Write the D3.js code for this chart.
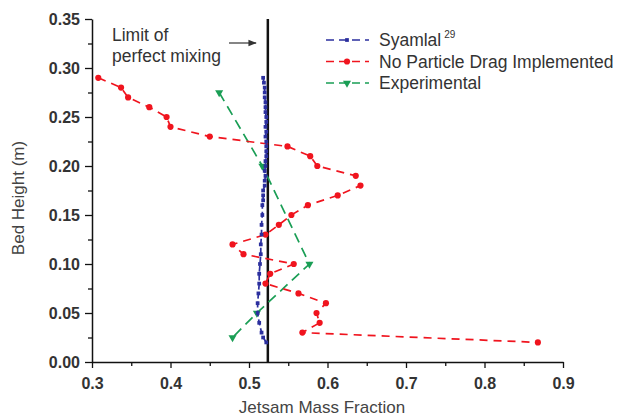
<!DOCTYPE html>
<html>
<head>
<meta charset="utf-8">
<script src="https://cdn.jsdelivr.net/npm/d3@7"></script>
<style>
  html, body { margin: 0; padding: 0; background: #fff; }
  svg { display: block; }
  text { font-family: "Liberation Sans", Arial, sans-serif; }
</style>
</head>
<body>
<svg id="chart" width="619" height="416"></svg>
<script>
// ---- Data ----
const seriesNames = ["Syamlal", "No Particle Drag Implemented", "Experimental"];

const syamlalHeight = [0.29, 0.285, 0.28, 0.275, 0.27, 0.265, 0.26, 0.255, 0.25, 0.245, 0.24, 0.235, 0.23, 0.225, 0.22, 0.215, 0.21, 0.205, 0.20, 0.195, 0.19, 0.185, 0.18, 0.175, 0.17, 0.165, 0.16, 0.15, 0.14, 0.13, 0.12, 0.11, 0.10, 0.09, 0.08, 0.07, 0.06, 0.05, 0.04, 0.03, 0.025, 0.02];
const syamlalFraction = [0.518, 0.519, 0.520, 0.520, 0.520, 0.521, 0.521, 0.521, 0.522, 0.522, 0.521, 0.522, 0.521, 0.522, 0.522, 0.522, 0.522, 0.521, 0.521, 0.520, 0.521, 0.520, 0.520, 0.518, 0.518, 0.518, 0.517, 0.517, 0.516, 0.516, 0.515, 0.515, 0.514, 0.513, 0.513, 0.512, 0.511, 0.511, 0.513, 0.516, 0.518, 0.522];

const dragHeight = [0.29, 0.28, 0.27, 0.26, 0.25, 0.24, 0.23, 0.22, 0.21, 0.20, 0.19, 0.18, 0.17, 0.16, 0.15, 0.14, 0.13, 0.12, 0.11, 0.10, 0.09, 0.08, 0.07, 0.06, 0.05, 0.04, 0.03, 0.02];
const dragFraction = [0.308, 0.337, 0.346, 0.373, 0.395, 0.400, 0.450, 0.549, 0.578, 0.587, 0.636, 0.642, 0.613, 0.575, 0.554, 0.538, 0.521, 0.479, 0.493, 0.557, 0.527, 0.521, 0.563, 0.598, 0.586, 0.590, 0.568, 0.868];

const expHeight = [0.275, 0.20, 0.10, 0.05, 0.025];
const expFraction = [0.462, 0.517, 0.577, 0.510, 0.479];

const perfectMixing = 0.524;

const xTicks = [0.3, 0.4, 0.5, 0.6, 0.7, 0.8, 0.9];
const xMinorTicks = [0.35, 0.45, 0.55, 0.65, 0.75, 0.85];
const yTicks = [0.00, 0.05, 0.10, 0.15, 0.20, 0.25, 0.30, 0.35];
const yMinorTicks = [0.025, 0.075, 0.125, 0.175, 0.225, 0.275, 0.325];

// ---- Chart ----
const svg = d3.select("#chart");
const x = d3.scaleLinear().domain([0.3, 0.9]).range([92, 563]);
const y = d3.scaleLinear().domain([0, 0.35]).range([362, 19]);

const colors = { blue: "#2b2f9e", red: "#f0141e", green: "#1a9e55" };

// minor ticks
svg.append("g").attr("transform", "translate(0,362)")
  .call(d3.axisBottom(x).tickValues(xMinorTicks).tickSize(4).tickFormat(""))
  .call(g => g.select(".domain").remove())
  .call(g => g.selectAll("line").attr("stroke", "#111").attr("stroke-width", 1.3));
svg.append("g").attr("transform", "translate(92,0)")
  .call(d3.axisLeft(y).tickValues(yMinorTicks).tickSize(4).tickFormat(""))
  .call(g => g.select(".domain").remove())
  .call(g => g.selectAll("line").attr("stroke", "#111").attr("stroke-width", 1.3));

// major axes
const xAxis = svg.append("g").attr("transform", "translate(0,362)")
  .call(d3.axisBottom(x).tickValues(xTicks).tickSize(6).tickSizeOuter(0).tickPadding(10).tickFormat(d3.format(".1f")));
const yAxis = svg.append("g").attr("transform", "translate(92,0)")
  .call(d3.axisLeft(y).tickValues(yTicks).tickSize(7).tickSizeOuter(0).tickPadding(5).tickFormat(d3.format(".2f")));
[xAxis, yAxis].forEach(g => {
  g.select(".domain").attr("stroke", "#111").attr("stroke-width", 1.5);
  g.selectAll(".tick line").attr("stroke", "#111").attr("stroke-width", 1.3);
  g.selectAll(".tick text").attr("fill", "#333").style("font-size", "16px").style("font-weight", "bold")
    .style("font-family", "'Liberation Sans', Arial, sans-serif");
});

// axis titles
svg.append("text").attr("x", 322).attr("y", 413).attr("text-anchor", "middle")
  .attr("fill", "#444").style("font-size", "17px").text("Jetsam Mass Fraction");
svg.append("text").attr("transform", "translate(24,198) rotate(-90)").attr("text-anchor", "middle")
  .attr("fill", "#444").style("font-size", "17px").text("Bed Height (m)");

// perfect mixing line
svg.append("line").attr("x1", x(perfectMixing)).attr("x2", x(perfectMixing))
  .attr("y1", y(0.35)).attr("y2", y(0)).attr("stroke", "#111").attr("stroke-width", 2.5);

// annotation
svg.append("text").attr("x", 112).attr("y", 41).attr("fill", "#333").style("font-size", "17.5px").text("Limit of");
svg.append("text").attr("x", 112).attr("y", 62).attr("fill", "#333").style("font-size", "17.5px").text("perfect mixing");
svg.append("defs").append("marker").attr("id", "arrow").attr("viewBox", "0 0 10 10")
  .attr("refX", 9).attr("refY", 5).attr("markerWidth", 7).attr("markerHeight", 7).attr("orient", "auto")
  .append("path").attr("d", "M0,1 L10,5 L0,9 Z").attr("fill", "#333");
svg.append("line").attr("x1", 229).attr("x2", 256).attr("y1", 43).attr("y2", 43)
  .attr("stroke", "#333").attr("stroke-width", 1.2).attr("marker-end", "url(#arrow)");

const line = d3.line().x(d => x(d[0])).y(d => y(d[1]));

function drawSeries(fr, ht, color, shape, dash) {
  const pts = fr.map((v, i) => [v, ht[i]]);
  svg.append("path").datum(pts).attr("d", line).attr("fill", "none")
    .attr("stroke", color).attr("stroke-width", 1.7).attr("stroke-dasharray", dash);
  const sym = d3.symbol().type(shape.type).size(shape.size);
  svg.append("g").selectAll("path").data(pts).join("path")
    .attr("d", sym)
    .attr("transform", d => `translate(${x(d[0])},${y(d[1])})${shape.rot ? " rotate(180)" : ""}`)
    .attr("fill", color);
}

drawSeries(expFraction, expHeight, colors.green, { type: d3.symbolTriangle, size: 28, rot: true }, "10,6");
drawSeries(dragFraction, dragHeight, colors.red, { type: d3.symbolCircle, size: 30 }, "8,6");
drawSeries(syamlalFraction, syamlalHeight, colors.blue, { type: d3.symbolSquare, size: 14 }, "6,3");

// legend
const legend = [
  { name: seriesNames[0], color: colors.blue, shape: { type: d3.symbolSquare, size: 14 }, sup: "29" },
  { name: seriesNames[1], color: colors.red, shape: { type: d3.symbolCircle, size: 30 } },
  { name: seriesNames[2], color: colors.green, shape: { type: d3.symbolTriangle, size: 28, rot: true } }
];
legend.forEach((l, i) => {
  const ly = 40 + i * 21.5;
  svg.append("line").attr("x1", 325).attr("x2", 369).attr("y1", ly).attr("y2", ly)
    .attr("stroke", l.color).attr("stroke-width", 1.6).attr("stroke-dasharray", "8,5").attr("stroke-dashoffset", -1);
  svg.append("path").attr("d", d3.symbol().type(l.shape.type).size(l.shape.size))
    .attr("transform", `translate(347,${ly})${l.shape.rot ? " rotate(180)" : ""}`).attr("fill", l.color);
  const t = svg.append("text").attr("x", 379).attr("y", ly + 6).attr("fill", "#333").style("font-size", "17.5px").text(l.name);
  if (l.sup) {
    t.append("tspan").attr("dx", 3).attr("dy", -8).style("font-size", "10px").text(l.sup);
  }
});
</script>
</body>
</html>
